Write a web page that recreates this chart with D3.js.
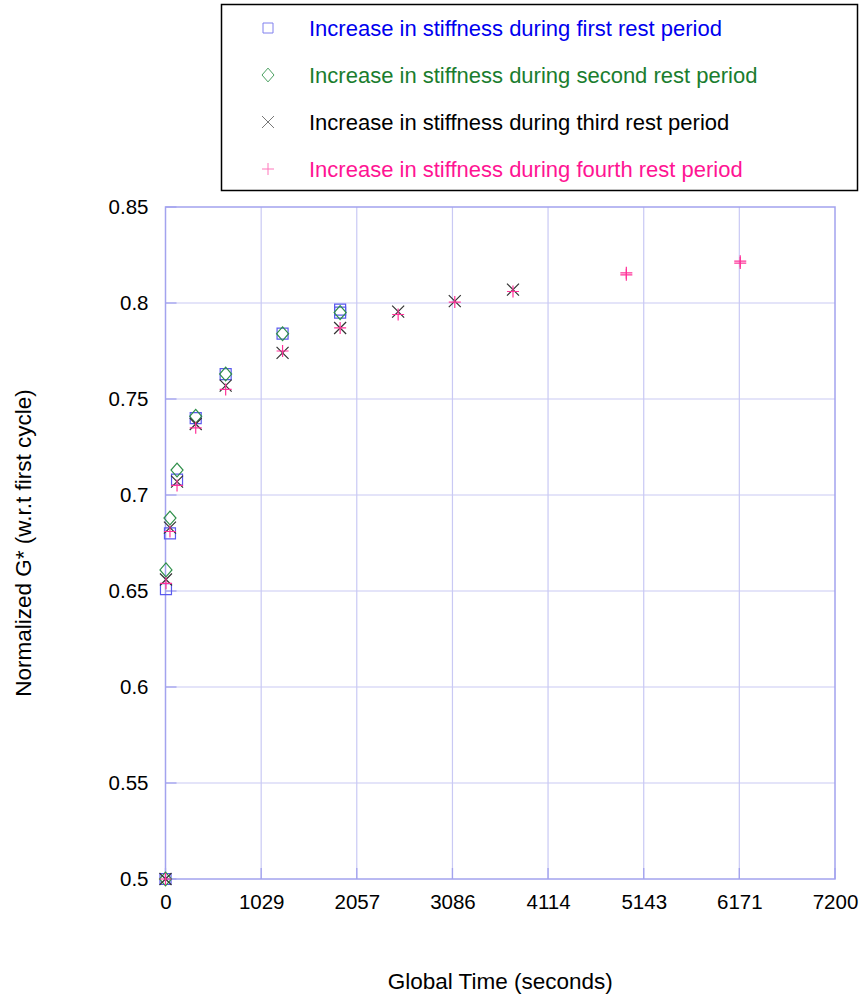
<!DOCTYPE html>
<html>
<head>
<meta charset="utf-8">
<script src="https://cdn.jsdelivr.net/npm/d3@7"></script>
<style>
  html, body { margin: 0; padding: 0; background: #fff; }
  svg { display: block; font-family: "Liberation Sans", Arial, sans-serif; }
</style>
</head>
<body>
<svg id="chart" width="864" height="995"></svg>
<script>
// Stiffness recovery during rest periods (normalized G* vs global time)
const firstTime  = [0, 5, 48, 124, 325, 647, 1259, 1878, 1878];
const firstG     = [0.5, 0.651, 0.680, 0.708, 0.740, 0.763, 0.784, 0.795, 0.7965];

const secondTime = [0, 5, 48, 124, 325, 647, 1259, 1878];
const secondG    = [0.5, 0.661, 0.688, 0.713, 0.741, 0.763, 0.784, 0.795];

const thirdTime  = [0, 5, 48, 124, 325, 647, 1259, 1878, 2502, 3111, 3737];
const thirdG     = [0.5, 0.656, 0.683, 0.707, 0.737, 0.757, 0.774, 0.787, 0.7955, 0.801, 0.807];

const fourthTime = [0, 5, 48, 124, 325, 647, 1259, 1878, 2502, 3111, 3737, 4956, 4956, 6181, 6181];
const fourthG    = [0.5, 0.654, 0.681, 0.705, 0.735, 0.755, 0.775, 0.787, 0.794, 0.8005, 0.806, 0.8157, 0.8147, 0.8218, 0.8208];

const xTickValues = [0, 1029, 2057, 3086, 4114, 5143, 6171, 7200];
const yTickValues = [0.5, 0.55, 0.6, 0.65, 0.7, 0.75, 0.8, 0.85];

const seriesNames = [
  "Increase in stiffness during first rest period",
  "Increase in stiffness during second rest period",
  "Increase in stiffness during third rest period",
  "Increase in stiffness during fourth rest period"
];

const series = [
  { name: seriesNames[0], t: firstTime,  g: firstG,  shape: "square",  stroke: "#5a5aee", legendStroke: "#8080ee", text: "#0000ee" },
  { name: seriesNames[1], t: secondTime, g: secondG, shape: "diamond", stroke: "#2f8f4a", legendStroke: "#4aa060", text: "#1a7d2e" },
  { name: seriesNames[2], t: thirdTime,  g: thirdG,  shape: "cross",   stroke: "#333333", legendStroke: "#777777", text: "#000000" },
  { name: seriesNames[3], t: fourthTime, g: fourthG, shape: "plus",    stroke: "#ff3399", legendStroke: "#ff77bb", text: "#ff1493" }
];

const margin = { left: 165.5, right: 864 - 835, top: 207, bottom: 995 - 879 };
const W = 864, H = 995;
const x = d3.scaleLinear().domain([0, 7200]).range([margin.left, W - margin.right]);
const y = d3.scaleLinear().domain([0.5, 0.85]).range([H - margin.bottom, margin.top]);

const svg = d3.select("#chart");
const tickFont = 20.5, titleFont = 22.5, legendFont = 22;

// marker path generator centred on (0,0)
function markerPath(shape, r) {
  const p = d3.path();
  if (shape === "square") {
    p.rect(-r, -r, 2 * r, 2 * r);
  } else if (shape === "diamond") {
    const ry = r * 1.15;
    p.moveTo(0, -ry); p.lineTo(r, 0); p.lineTo(0, ry); p.lineTo(-r, 0); p.closePath();
  } else if (shape === "cross") {
    p.moveTo(-r, -r); p.lineTo(r, r); p.moveTo(-r, r); p.lineTo(r, -r);
  } else {
    p.moveTo(-r, 0); p.lineTo(r, 0); p.moveTo(0, -r); p.lineTo(0, r);
  }
  return p.toString();
}

// grid
const gridColor = "#c9c9f4";
const frameColor = "#a3a3ee";
const grid = svg.append("g");
grid.selectAll("line.vx").data(xTickValues.slice(1, -1)).join("line")
  .attr("x1", d => x(d)).attr("x2", d => x(d))
  .attr("y1", y(0.5)).attr("y2", y(0.85))
  .attr("stroke", gridColor).attr("stroke-width", 1.2);
grid.selectAll("line.hy").data(yTickValues.slice(1, -1)).join("line")
  .attr("x1", x(0)).attr("x2", x(7200))
  .attr("y1", d => y(d)).attr("y2", d => y(d))
  .attr("stroke", gridColor).attr("stroke-width", 1.2);

// inward tick marks
grid.selectAll("line.ty").data(yTickValues).join("line")
  .attr("x1", x(0)).attr("x2", x(0) + 11)
  .attr("y1", d => y(d)).attr("y2", d => y(d))
  .attr("stroke", frameColor).attr("stroke-width", 1.3);
grid.selectAll("line.tx").data(xTickValues).join("line")
  .attr("x1", d => x(d)).attr("x2", d => x(d))
  .attr("y1", y(0.5)).attr("y2", y(0.5) - 11)
  .attr("stroke", frameColor).attr("stroke-width", 1.3);

// frame
svg.append("rect")
  .attr("x", x(0)).attr("y", y(0.85))
  .attr("width", x(7200) - x(0)).attr("height", y(0.5) - y(0.85))
  .attr("fill", "none").attr("stroke", frameColor).attr("stroke-width", 1.5);

// tick labels via axes (lines hidden)
const yAxis = svg.append("g")
  .attr("transform", `translate(${x(0)},0)`)
  .call(d3.axisLeft(y).tickValues(yTickValues).tickFormat(d3.format("~g")).tickSize(0).tickPadding(17));
const xAxis = svg.append("g")
  .attr("transform", `translate(0,${y(0.5)})`)
  .call(d3.axisBottom(x).tickValues(xTickValues).tickFormat(d3.format("d")).tickSize(0).tickPadding(15));
[yAxis, xAxis].forEach(a => {
  a.select(".domain").remove();
  a.selectAll("text").attr("font-size", tickFont).attr("fill", "#000")
    .attr("font-family", "'Liberation Sans', Arial, sans-serif");
});

// axis titles
svg.append("text")
  .attr("x", (x(0) + x(7200)) / 2).attr("y", 989)
  .attr("text-anchor", "middle").attr("font-size", titleFont).attr("fill", "#000")
  .text("Global Time (seconds)");
svg.append("text")
  .attr("transform", `translate(31,${(y(0.5) + y(0.85)) / 2}) rotate(-90)`)
  .attr("text-anchor", "middle").attr("font-size", titleFont).attr("fill", "#000")
  .text("Normalized G* (w.r.t first cycle)");

// data markers
series.forEach(s => {
  const pts = s.t.map((t, i) => ({ t, g: s.g[i] }));
  svg.append("g").selectAll("path").data(pts).join("path")
    .attr("transform", d => `translate(${x(d.t)},${y(d.g)})`)
    .attr("d", markerPath(s.shape, s.shape === "square" ? 5.5 : 6))
    .attr("fill", "none").attr("stroke", s.stroke).attr("stroke-width", 1.2);
});

// legend
const legend = svg.append("g");
legend.append("rect")
  .attr("x", 221.5).attr("y", 4.5).attr("width", 636).attr("height", 186)
  .attr("fill", "#fff").attr("stroke", "#000").attr("stroke-width", 1.5);
const rowY = [28, 75, 122, 169];
series.forEach((s, i) => {
  legend.append("path")
    .attr("transform", `translate(268,${rowY[i]})`)
    .attr("d", markerPath(s.shape, s.shape === "square" ? 5 : 6))
    .attr("fill", "none").attr("stroke", s.legendStroke).attr("stroke-width", 1);
  legend.append("text")
    .attr("x", 309).attr("y", rowY[i]).attr("dy", "0.35em")
    .attr("font-size", legendFont).attr("fill", s.text)
    .text(s.name);
});
</script>
</body>
</html>
